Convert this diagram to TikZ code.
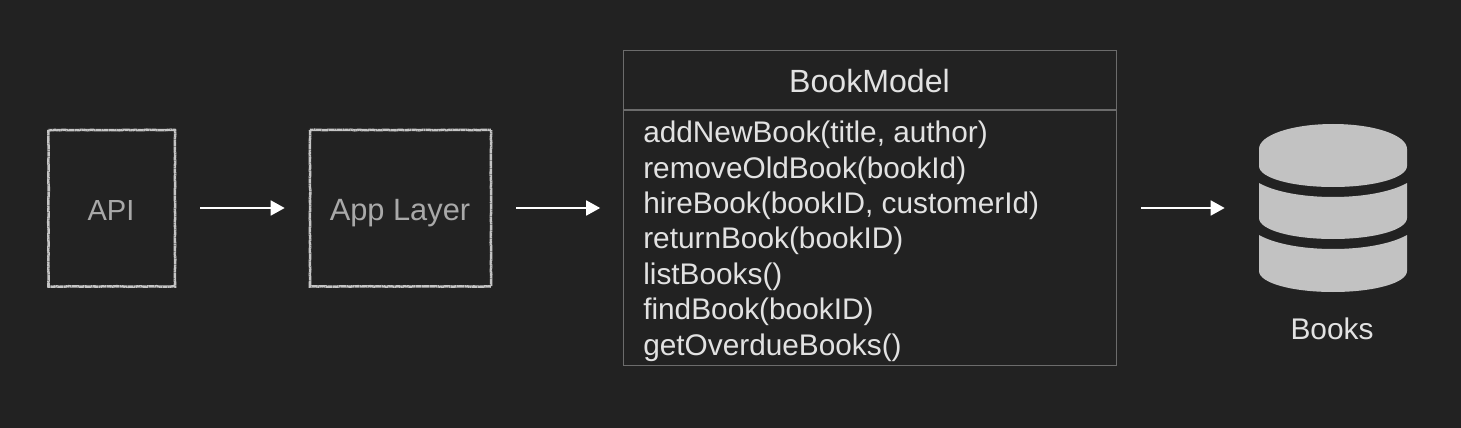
\documentclass[tikz,border=0pt]{standalone}
\usepackage{fontspec}
\setmainfont{Liberation Sans}
\usetikzlibrary{arrows.meta,decorations.pathmorphing}
\definecolor{bgc}{HTML}{222222}
\definecolor{chalk}{HTML}{C4C4C4}
\definecolor{dimtext}{HTML}{A9A9A9}
\definecolor{brighttext}{HTML}{E2E2E2}
\definecolor{frame}{HTML}{6C6C6C}
\definecolor{dbfill}{HTML}{C2C2C2}
\tikzset{
  x=0.75pt,y=-0.75pt,
  sketchbox/.style={minimum height=117pt,inner sep=0pt},
  sketchlabel/.style={anchor=base,inner sep=0pt,text=dimtext},
  chalkline/.style={draw=chalk,line width=1.9pt,dash pattern=on 1.2pt off 0.25pt,decorate,decoration={random steps,segment length=3pt,amplitude=0.2pt}},
  flow/.style={draw=white,line width=2pt,-{Triangle[length=10.5pt,width=11pt]}},
  umlframe/.style={draw=frame,line width=1.1pt},
  method/.style={anchor=base west,inner sep=0pt,text=brighttext,font=\fontsize{22.35}{26}\selectfont},
  dbpart/.style={fill=dbfill,draw=none},
}
\begin{document}
\begin{tikzpicture}
\useasboundingbox (0,0) rectangle (1461,428);
\fill[bgc] (0,0) rectangle (1461,428);
% sketched boxes
\node[sketchbox,minimum width=95pt] (api) at (111.5,208) {};
\node[sketchbox,minimum width=135.75pt] (app) at (400.5,208) {};
\draw[chalkline] (48.5,130) rectangle (175,286.5);
\draw[chalkline] (310,130) rectangle (491,286.5);
\node[sketchlabel,font=\fontsize{21.8}{26}\selectfont] (apilabel) at (111,220) {API};
\node[sketchlabel,font=\fontsize{23.1}{26}\selectfont] (applabel) at (400,220) {App Layer};
% BookModel
\node[minimum width=369.75pt,minimum height=236.25pt,inner sep=0pt] (model) at (870,208) {};
\coordinate (divl) at (623.5,110);
\coordinate (divr) at (1116.5,110);
\draw[umlframe] (623.5,50.5) rectangle (1116.5,365.5);
\draw[umlframe] (divl) -- (divr);
\node[inner sep=0pt,text=brighttext,font=\fontsize{24.1}{28}\selectfont] (title) at (869.5,81) {BookModel};
\node[method] (m1) at (643,142.6) {addNewBook(title, author)};
\node[method] (m2) at (643,178) {removeOldBook(bookId)};
\node[method] (m3) at (643,213.4) {hireBook(bookID, customerId)};
\node[method] (m4) at (643,248.8) {returnBook(bookID)};
\node[method] (m5) at (643,284.2) {listBooks()};
\node[method] (m6) at (643,319.6) {findBook(bookID)};
\node[method] (m7) at (643,355) {getOverdueBooks()};
% database
\node[minimum width=111pt,minimum height=126pt,inner sep=0pt] (db) at (1333,208) {};
\fill[dbpart] (1259,149) .. controls (1259,135) and (1292,124) .. (1333,124)
  .. controls (1374,124) and (1407,135) .. (1407,149) -- (1407,166)
  .. controls (1407,178) and (1374,187) .. (1333,187)
  .. controls (1292,187) and (1259,178) .. (1259,166) -- cycle;
\fill[dbpart] (1259,183) .. controls (1275,192) and (1303,197) .. (1333,197)
  .. controls (1363,197) and (1391,192) .. (1407,183) -- (1407,218)
  .. controls (1407,230) and (1374,239) .. (1333,239)
  .. controls (1292,239) and (1259,230) .. (1259,218) -- cycle;
\fill[dbpart] (1259,235) .. controls (1275,244) and (1303,249) .. (1333,249)
  .. controls (1363,249) and (1391,244) .. (1407,235) -- (1407,271)
  .. controls (1407,283) and (1374,292) .. (1333,292)
  .. controls (1292,292) and (1259,283) .. (1259,271) -- cycle;
\node[inner sep=0pt,text=brighttext,font=\fontsize{22.4}{26}\selectfont] (dblabel) at (1332,329) {Books};
% connectors
\draw[flow,shorten <=18.75pt,shorten >=18.75pt] (api.east) -- (app.west);
\draw[flow,shorten <=18.75pt,shorten >=17.25pt] (app.east) -- (model.west);
\draw[flow,shorten <=18pt,shorten >=25.5pt] (model.east) -- (db.west);
\end{tikzpicture}
\end{document}
